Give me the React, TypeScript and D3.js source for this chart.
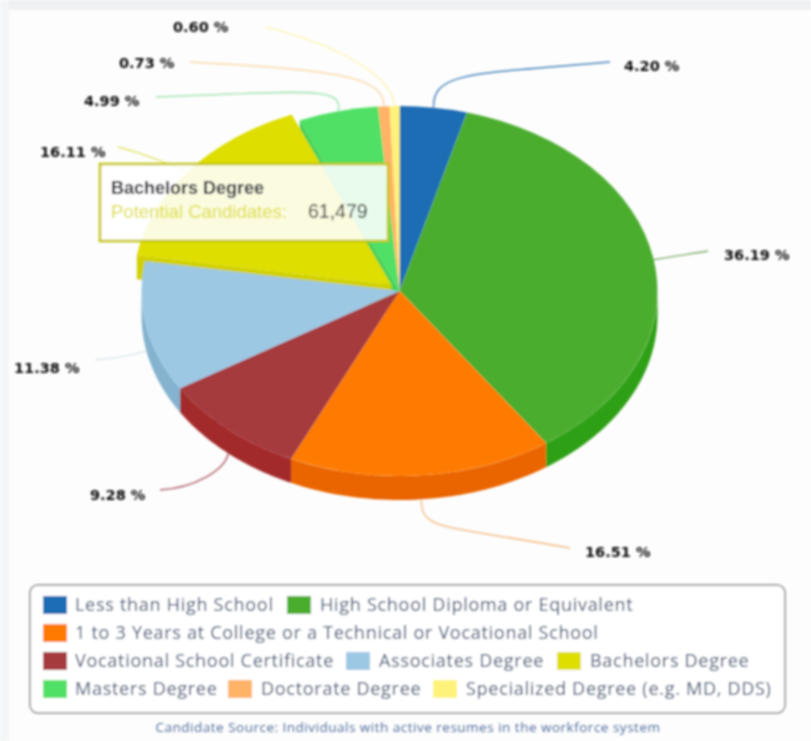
import React from "react";
import * as d3 from "d3";

const categories = ["Less than High School","High School Diploma or Equivalent","1 to 3 Years at College or a Technical or Vocational School","Vocational School Certificate","Associates Degree","Bachelors Degree","Masters Degree","Doctorate Degree","Specialized Degree (e.g. MD, DDS)"];
const shares = [4.20,36.19,16.51,9.28,11.38,16.11,4.99,0.73,0.60];
const colors = ["#1f6db3","#4bad2e","#ff7a00","#a53b3d","#9cc8e4","#dede00","#4fe065","#ffb366","#fff27a"];
const sideColors = ["#17558c","#2fa015","#ea6500","#a32a2c","#84b2cf","#d0d000","#44d058","#dd9850","#ddd060"];
const leaderColors = ["#4a86bd","#7fae6e","#f3c08c","#b0606a","#dfe8ec","#e4e46a","#a4e4b4","#fbd9a8","#fdf5b8"];

// layout, kept apart from the data
const W=811,H=741,cx=399.5,cy=291,rx=258,ry=185,depth=24;
const labelPos:[number,number][]=[[624,71],[724,260],[585,557],[90,500],[14,373],[40,157],[84,106],[119,68],[173,32]];
const leaderEnds:[number,number][]=[[610,62],[708,251],[570,548],[160,490],[95,360],[118,147],[156,97],[190,62],[265,27]];
const leaderCtl:[number,number,number,number][]=[[433,72,470,74],[675,256,690,254],[421,530,440,525],[225,470,195,488],[140,352,125,358],[170,165,150,155],[345,85,300,92],[385,75,330,70],[392,70,320,40]];
const legendRows:[number,number][][]=[[[0,43],[1,287]],[[2,43]],[[3,43],[4,346],[5,557]],[[6,43],[7,228],[8,433]]];
const rowY=[605,633,661,689];

const pie=d3.pie<number>().sort(null).value(d=>d);
const arcs=pie(shares);
const unitArc=d3.arc<d3.PieArcDatum<number>>().innerRadius(0).outerRadius(1);
const pt=(a:number,dy=0):[number,number]=>[rx*Math.sin(a),-ry*Math.cos(a)+dy];
const offset=(i:number)=>i===5?[-8,-6]:[0,0];
const line=d3.line();

function wall(a0:number,a1:number){
  const s=Math.max(a0,Math.PI/2), e=Math.min(a1,Math.PI*1.5);
  if(s>=e) return null;
  const t=d3.range(0,41).map(k=>s+(e-s)*k/40);
  return line([...t.map(a=>pt(a)),...t.slice().reverse().map(a=>pt(a,depth))])+"Z";
}
function cutFace(a:number){
  return line([[0,0],pt(a),pt(a,depth),[0,depth]])+"Z";
}

export default function App(){
  return (
    <svg width={W} height={H} style={{position:"absolute",left:0,top:0,background:"#fdfdfd"}}>
      <defs><filter id="soft" x="-5%" y="-5%" width="110%" height="110%"><feGaussianBlur stdDeviation="0.9"/></filter></defs>
      <g filter="url(#soft)">
        <rect x={0} y={0} width={W} height={10} fill="#eef0f2"/>
        <rect x={0} y={0} width={9} height={H} fill="#f4f5f6"/>
        <g fill="none" strokeWidth={1.5}>
          {arcs.map((a,i)=>{
            const m=(a.startAngle+a.endAngle)/2;
            const [x,y]=pt(m,m>Math.PI/2&&m<Math.PI*1.5?depth:0);
            const [c1,c2,c3,c4]=leaderCtl[i];
            const [ex,ey]=leaderEnds[i];
            return <path key={i} d={`M${cx+x},${cy+y}C${c1},${c2} ${c3},${c4} ${ex},${ey}`} stroke={leaderColors[i]}/>;
          })}
        </g>
        <g transform={`translate(${cx},${cy})`}>
          {arcs.map((a,i)=>{
            const w=wall(a.startAngle,a.endAngle);
            const [ox,oy]=offset(i);
            return w?<path key={i} d={w} transform={`translate(${ox},${oy})`} fill={sideColors[i]}/>:null;
          })}
          <path d={cutFace(arcs[6].startAngle)} fill={sideColors[6]}/>
          <path d={cutFace(arcs[5].startAngle)} transform={`translate(${offset(5)[0]},${offset(5)[1]})`} fill={sideColors[5]}/>
          {arcs.map((a,i)=>{
            const [ox,oy]=offset(i);
            return <path key={i} d={unitArc(a)!} transform={`translate(${ox},${oy}) scale(${rx},${ry})`} fill={colors[i]}/>;
          })}
        </g>
        <g fontFamily="'DejaVu Sans',sans-serif" fontWeight="bold" fontSize={14.5} fill="#111">
          {shares.map((v,i)=><text key={i} x={labelPos[i][0]} y={labelPos[i][1]}>{v.toFixed(2)} %</text>)}
        </g>
        <rect x={100} y={164} width={288} height={77} fill="#fff" fillOpacity={0.88} stroke="#c4c400" strokeWidth={2.5}/>
        <g fontFamily="'Liberation Sans',Arial,sans-serif" fontSize={18.5}>
          <text x={111} y={194} fill="#222233" fontWeight="bold" fontSize={18}>Bachelors Degree</text>
          <text x={111} y={218} fill="#dede30">Potential Candidates:</text>
          <text x={308} y={218} fill="#333" fontSize={19.5}>61,479</text>
        </g>
        <rect x={30} y={585} width={755} height={128} rx={8} fill="#fff" stroke="#888" strokeWidth={1.5}/>
        <g fontFamily="'Open Sans',sans-serif" fontSize={18} letterSpacing={0.72} fill="#2c4266">
          {legendRows.map((row,r)=>row.map(([i,x])=>(
            <g key={i}>
              <rect x={x} y={rowY[r]-9} width={24} height={18} fill={colors[i]}/>
              <text x={x+(i===0||i===2||i===3||i===6?32:33)} y={rowY[r]+6}>{categories[i]}</text>
            </g>
          )))}
        </g>
        <text x={408} y={732} textAnchor="middle" fontFamily="'Open Sans',sans-serif" fontSize={13.5} letterSpacing={0.5} fill="#4f6c9c">Candidate Source: Individuals with active resumes in the workforce system</text>
      </g>
    </svg>
  );
}
